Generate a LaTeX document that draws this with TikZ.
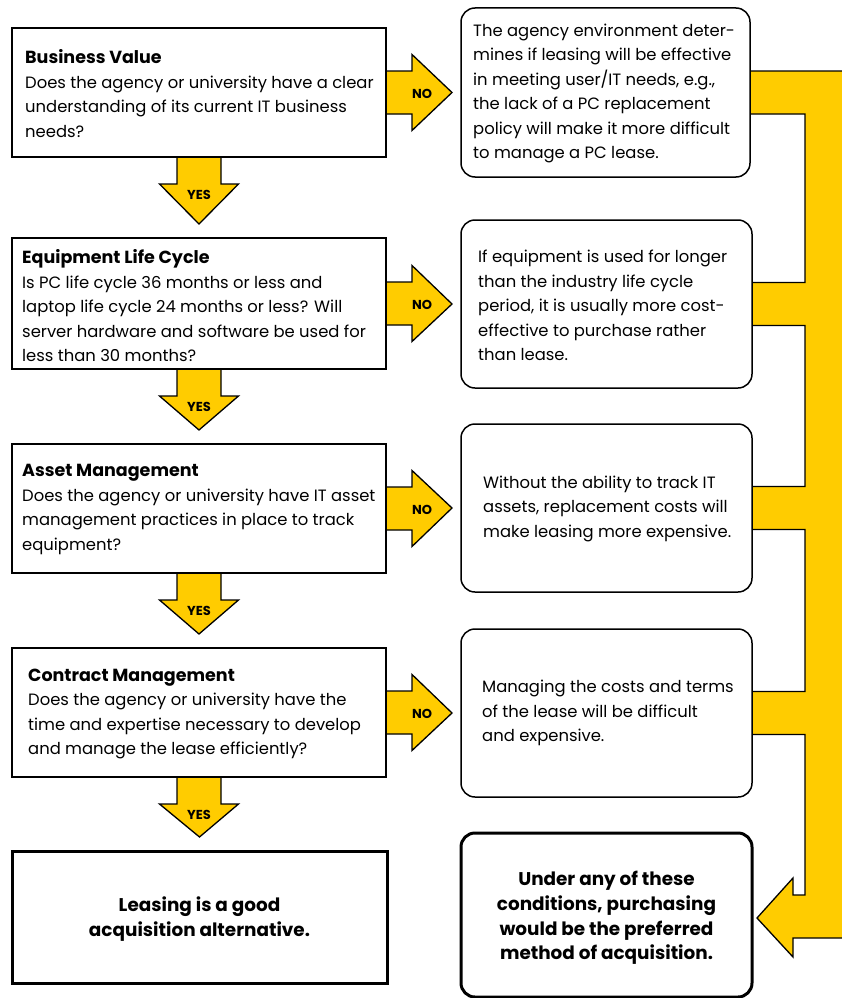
\documentclass[tikz,border=0pt]{standalone}
\usepackage{fontspec}
\setmainfont{Poppins}
\usetikzlibrary{calc}
\definecolor{gold}{HTML}{FFCC00}
\pgfdeclarelayer{bg}
\pgfsetlayers{bg,main}

% heading inside a question box
\newcommand\heading[1]{{\fontsize{17.5}{24.5}\selectfont\bfseries #1}}

% yellow "NO" arrow from a question box to its answer box
\newcommand\drawno[2]{%
  \begin{pgfonlayer}{bg}
    \filldraw[arrowfill] ($(#1.east)+(0,-21.5)$) -- ($(#1.east)+(26,-21.5)$)
      -- ($(#1.east)+(26,-38)$) -- ($(#2.west)+(-9,0)$)
      -- ($(#1.east)+(26,38)$) -- ($(#1.east)+(26,21.5)$) -- ($(#1.east)+(0,21.5)$);
  \end{pgfonlayer}
  \node[tag] (#1no) at ($(#1.east)+(36,1)$) {NO};}

% yellow "YES" arrow from one question box down to the next
\newcommand\drawyes[2]{%
  \begin{pgfonlayer}{bg}
    \filldraw[arrowfill] ($(#1.south)+(-22,0)$) -- ($(#1.south)+(-22,27)$)
      -- ($(#1.south)+(-39.5,27)$) -- ($(#2.north)+(0,-14)$)
      -- ($(#1.south)+(39.5,27)$) -- ($(#1.south)+(22,27)$) -- ($(#1.south)+(22,0)$);
  \end{pgfonlayer}
  \node[tag] (#1yes) at ($(#1.south)+(0,38)$) {YES};}

\begin{document}
\begin{tikzpicture}[x=1pt,y=-1pt,
  qbox/.style={draw, fill=white, line width=1.4pt, inner sep=0pt, outer sep=0pt,
    minimum width=374pt, minimum height=129pt},
  abox/.style={draw, fill=white, line width=1.5pt, rounded corners=14pt, inner sep=0pt,
    outer sep=0pt, minimum width=291pt, minimum height=168pt},
  body/.style={inner sep=0pt, anchor=west, align=left,
    font=\fontsize{16.4}{24.5}\selectfont},
  finaltext/.style={inner sep=0pt, align=center,
    font=\fontsize{18.4}{24.7}\selectfont\bfseries},
  arrowfill/.style={fill=gold, draw=black, line width=1.3pt, line join=miter},
  tag/.style={inner sep=0pt, font=\fontsize{13}{13}\selectfont\bfseries}]

\useasboundingbox (0,0) rectangle (841,998);

% question column
\node[qbox] (q1) at (199,92.5) {};
\node[body] (q1t) at ($(q1.west)+(13,1)$) {\heading{Business Value}\\Does the agency or university have a clear\\understanding of its current IT business\\needs?};

\node[qbox, minimum height=131pt] (q2) at (199,303.5) {};
\node[body] (q2t) at ($(q2.west)+(10,2.5)$) {\heading{Equipment Life Cycle}\\Is PC life cycle 36 months or less and\\laptop life cycle 24 months or less? Will\\server hardware and software be used for\\less than 30 months?};

\node[qbox] (q3) at (199,508.5) {};
\node[body] (q3t) at ($(q3.west)+(10,1)$) {\heading{Asset Management}\\Does the agency or university have IT asset\\management practices in place to track\\equipment?};

\node[qbox] (q4) at (199,712.5) {};
\node[body] (q4t) at ($(q4.west)+(16,1.5)$) {\heading{Contract Management}\\Does the agency or university have the\\time and expertise necessary to develop\\and manage the lease efficiently?};

\node[qbox, line width=3pt, minimum width=375pt, minimum height=132pt] (lease) at (199.5,917) {};
\node[finaltext] (leaset) at ($(lease.center)+(0,2)$) {Leasing is a good\\acquisition alternative.};

% answer column
\node[abox, minimum width=289pt, minimum height=169pt] (a1) at (605.5,92.5) {};
\node[body] (a1t) at ($(a1.west)+(12,1)$) {The agency environment deter-\\mines if leasing will be effective\\in meeting user/IT needs, e.g.,\\the lack of a PC replacement\\policy will make it more difficult\\to manage a PC lease.};

\node[abox] (a2) at (606.5,304) {};
\node[body] (a2t) at ($(a2.west)+(17,1.5)$) {If equipment is used for longer\\than the industry life cycle\\period, it is usually more cost-\\effective to purchase rather\\than lease.};

\node[abox] (a3) at (606.5,508) {};
\node[body] (a3t) at ($(a3.west)+(22,0.5)$) {Without the ability to track IT\\assets, replacement costs will\\make leasing more expensive.};

\node[abox] (a4) at (606.5,713) {};
\node[body] (a4t) at ($(a4.west)+(21,0)$) {Managing the costs and terms\\of the lease will be difficult\\and expensive.};

\node[abox, line width=3pt, minimum height=164pt] (buy) at (606.5,915) {};
\node[finaltext] (buyt) at ($(buy.center)+(0,3)$) {Under any of these\\conditions, purchasing\\would be the preferred\\method of acquisition.};

% NO / YES arrows
\drawno{q1}{a1}
\drawno{q2}{a2}
\drawno{q3}{a3}
\drawno{q4}{a4}
\drawyes{q1}{q2}
\drawyes{q2}{q3}
\drawyes{q3}{q4}
\drawyes{q4}{lease}

% collecting arrow on the right, leading to the purchase box
\coordinate (rail) at (805,0);
\coordinate (edge) at (850,0);
\coordinate (neck) at (793,0);
\foreach \n in {a1,a2,a3,a4}{
  \coordinate (\n t) at ($(\n.east)+(0,-21.5)$);
  \coordinate (\n b) at ($(\n.east)+(0,21.5)$);
}
\coordinate (bt) at ($(buy.east)+(0,-20)$);
\coordinate (bb) at ($(buy.east)+(0,23)$);
\coordinate (ht) at ($(buy.east)+(41,-37)$);
\coordinate (hb) at ($(buy.east)+(41,42)$);
\coordinate (tip) at ($(buy.east)+(5,3)$);
\begin{pgfonlayer}{bg}
\filldraw[arrowfill] (a1t) -- (edge |- a1t) -- (edge |- bb) -- (neck |- bb) -- (hb)
  -- (tip) -- (ht) -- (neck |- bt) -- (rail |- bt)
  -- (rail |- a4b) -- (a4b) -- (a4t) -- (rail |- a4t)
  -- (rail |- a3b) -- (a3b) -- (a3t) -- (rail |- a3t)
  -- (rail |- a2b) -- (a2b) -- (a2t) -- (rail |- a2t)
  -- (rail |- a1b) -- (a1b) -- cycle;
\end{pgfonlayer}
\end{tikzpicture}
\end{document}
